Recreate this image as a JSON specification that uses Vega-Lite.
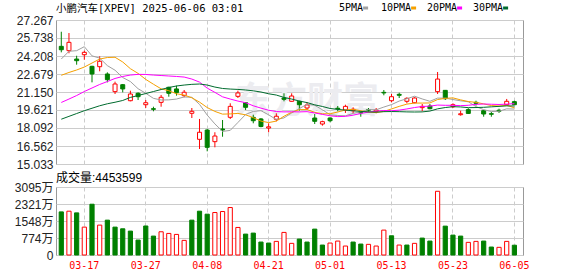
{
  "$schema": "https://vega.github.io/schema/vega-lite/v6.json",
  "background": "white",
  "padding": {"left": 0, "top": 2, "right": 4, "bottom": 0},
  "datasets": {
    "k": [
      {"date":"03-12","open":25.03,"high":26.27,"low":24.52,"close":24.74,"volume":19620000,"chg":"down","ma5":23.95,"ma10":22.57,"ma20":20.26,"ma30":18.84},
      {"date":"03-13","open":24.66,"high":26.16,"low":24.44,"close":25.37,"volume":19940000,"chg":"up","ma5":24.61,"ma10":22.81,"ma20":20.55,"ma30":19.08},
      {"date":"03-14","open":23.95,"high":24.23,"low":23.47,"close":23.81,"volume":19170000,"chg":"down","ma5":24.66,"ma10":23.02,"ma20":20.85,"ma30":19.32},
      {"date":"03-17","open":24.32,"high":24.66,"low":23.89,"close":24.52,"volume":12690000,"chg":"up","ma5":25.00,"ma10":23.27,"ma20":21.19,"ma30":19.56},
      {"date":"03-18","open":23.33,"high":23.38,"low":21.97,"close":22.68,"volume":23110000,"chg":"down","ma5":24.22,"ma10":23.61,"ma20":21.49,"ma30":19.77},
      {"date":"03-19","open":23.30,"high":24.18,"low":22.91,"close":23.76,"volume":13600000,"chg":"up","ma5":24.03,"ma10":23.95,"ma20":21.79,"ma30":19.98},
      {"date":"03-20","open":22.68,"high":22.82,"low":21.97,"close":22.20,"volume":15860000,"chg":"down","ma5":23.39,"ma10":24.08,"ma20":22.04,"ma30":20.15},
      {"date":"03-21","open":21.18,"high":22.03,"low":20.98,"close":21.83,"volume":12690000,"chg":"down","ma5":23.00,"ma10":24.10,"ma20":22.30,"ma30":20.28},
      {"date":"03-24","open":21.77,"high":21.83,"low":21.12,"close":21.41,"volume":11930000,"chg":"down","ma5":22.38,"ma10":23.70,"ma20":22.47,"ma30":20.43},
      {"date":"03-25","open":20.41,"high":21.26,"low":20.36,"close":20.98,"volume":10880000,"chg":"down","ma5":22.04,"ma10":23.13,"ma20":22.59,"ma30":20.69},
      {"date":"03-26","open":21.04,"high":21.12,"low":20.47,"close":20.75,"volume":6800000,"chg":"down","ma5":21.43,"ma10":22.73,"ma20":22.65,"ma30":20.85},
      {"date":"03-27","open":20.07,"high":20.47,"low":19.79,"close":20.24,"volume":13200000,"chg":"down","ma5":21.04,"ma10":22.22,"ma20":22.64,"ma30":21.02},
      {"date":"03-28","open":19.73,"high":19.90,"low":19.51,"close":19.68,"volume":8610000,"chg":"down","ma5":20.61,"ma10":21.81,"ma20":22.59,"ma30":21.19},
      {"date":"03-31","open":20.27,"high":20.90,"low":19.90,"close":20.70,"volume":10570000,"chg":"up","ma5":20.47,"ma10":21.42,"ma20":22.55,"ma30":21.36},
      {"date":"04-01","open":21.55,"high":21.60,"low":20.75,"close":21.04,"volume":9820000,"chg":"up","ma5":20.48,"ma10":21.26,"ma20":22.51,"ma30":21.53},
      {"date":"04-02","open":21.41,"high":21.69,"low":20.84,"close":21.10,"volume":9370000,"chg":"up","ma5":20.55,"ma10":21.00,"ma20":22.47,"ma30":21.66},
      {"date":"04-03","open":20.84,"high":21.32,"low":20.70,"close":21.13,"volume":6650000,"chg":"up","ma5":20.73,"ma10":20.89,"ma20":22.42,"ma30":21.74},
      {"date":"04-04","open":19.34,"high":19.79,"low":18.94,"close":19.51,"volume":15860000,"chg":"down","ma5":20.70,"ma10":20.66,"ma20":22.25,"ma30":21.80},
      {"date":"04-07","open":17.13,"high":18.86,"low":16.31,"close":17.73,"volume":19940000,"chg":"down","ma5":20.10,"ma10":20.29,"ma20":21.99,"ma30":21.83},
      {"date":"04-08","open":17.92,"high":18.01,"low":16.11,"close":16.45,"volume":18580000,"chg":"down","ma5":19.19,"ma10":19.83,"ma20":21.48,"ma30":21.74},
      {"date":"04-09","open":16.93,"high":17.73,"low":16.45,"close":17.41,"volume":19330000,"chg":"up","ma5":18.44,"ma10":19.50,"ma20":21.12,"ma30":21.57},
      {"date":"04-10","open":18.01,"high":18.77,"low":17.35,"close":17.92,"volume":19790000,"chg":"up","ma5":17.80,"ma10":19.27,"ma20":20.74,"ma30":21.45},
      {"date":"04-11","open":19.00,"high":20.19,"low":18.86,"close":19.93,"volume":21600000,"chg":"up","ma5":17.89,"ma10":19.29,"ma20":20.55,"ma30":21.40},
      {"date":"04-14","open":20.78,"high":21.26,"low":20.64,"close":21.07,"volume":12540000,"chg":"up","ma5":18.56,"ma10":19.33,"ma20":20.38,"ma30":21.37},
      {"date":"04-15","open":20.24,"high":20.27,"low":19.62,"close":19.85,"volume":9510000,"chg":"down","ma5":19.24,"ma10":19.21,"ma20":20.24,"ma30":21.32},
      {"date":"04-16","open":19.00,"high":19.22,"low":18.49,"close":18.71,"volume":9970000,"chg":"down","ma5":19.50,"ma10":18.97,"ma20":19.98,"ma30":21.25},
      {"date":"04-17","open":18.86,"high":18.94,"low":18.15,"close":18.22,"volume":5890000,"chg":"down","ma5":19.56,"ma10":18.68,"ma20":19.78,"ma30":21.15},
      {"date":"04-21","open":18.09,"high":18.49,"low":17.73,"close":18.19,"volume":5440000,"chg":"down","ma5":19.21,"ma10":18.55,"ma20":19.60,"ma30":21.00},
      {"date":"04-22","open":18.83,"high":19.34,"low":18.66,"close":19.09,"volume":6200000,"chg":"up","ma5":18.81,"ma10":18.68,"ma20":19.49,"ma30":20.89},
      {"date":"04-23","open":20.64,"high":21.04,"low":20.36,"close":20.53,"volume":10280000,"chg":"up","ma5":18.95,"ma10":19.09,"ma20":19.46,"ma30":20.69},
      {"date":"04-24","open":20.36,"high":21.04,"low":20.33,"close":20.81,"volume":5300000,"chg":"up","ma5":19.37,"ma10":19.43,"ma20":19.47,"ma30":20.55},
      {"date":"04-25","open":20.36,"high":20.41,"low":19.56,"close":20.07,"volume":7250000,"chg":"down","ma5":19.74,"ma10":19.65,"ma20":19.46,"ma30":20.38},
      {"date":"04-28","open":19.79,"high":20.27,"low":19.62,"close":20.05,"volume":5890000,"chg":"down","ma5":20.11,"ma10":19.66,"ma20":19.48,"ma30":20.25},
      {"date":"04-29","open":18.94,"high":19.28,"low":18.43,"close":18.66,"volume":11780000,"chg":"down","ma5":20.02,"ma10":19.42,"ma20":19.37,"ma30":20.06},
      {"date":"04-30","open":18.43,"high":18.71,"low":18.29,"close":18.63,"volume":4530000,"chg":"down","ma5":19.64,"ma10":19.30,"ma20":19.25,"ma30":19.92},
      {"date":"05-01","open":18.94,"high":19.00,"low":18.58,"close":18.71,"volume":5440000,"chg":"up","ma5":19.22,"ma10":19.30,"ma20":19.13,"ma30":19.75},
      {"date":"05-02","open":19.77,"high":19.96,"low":19.51,"close":19.71,"volume":6340000,"chg":"up","ma5":19.15,"ma10":19.45,"ma20":19.06,"ma30":19.67},
      {"date":"05-05","open":19.62,"high":20.07,"low":19.37,"close":19.93,"volume":4080000,"chg":"up","ma5":19.13,"ma10":19.62,"ma20":19.08,"ma30":19.61},
      {"date":"05-06","open":19.56,"high":19.85,"low":19.34,"close":19.68,"volume":5890000,"chg":"down","ma5":19.33,"ma10":19.68,"ma20":19.18,"ma30":19.55},
      {"date":"05-07","open":19.43,"high":19.56,"low":19.05,"close":19.37,"volume":4980000,"chg":"down","ma5":19.48,"ma10":19.56,"ma20":19.33,"ma30":19.50},
      {"date":"05-08","open":19.65,"high":19.79,"low":19.43,"close":19.60,"volume":4850000,"chg":"up","ma5":19.66,"ma10":19.44,"ma20":19.44,"ma30":19.46},
      {"date":"05-09","open":19.51,"high":19.79,"low":19.34,"close":19.62,"volume":4080000,"chg":"up","ma5":19.64,"ma10":19.40,"ma20":19.52,"ma30":19.44},
      {"date":"05-12","open":21.12,"high":21.32,"low":20.87,"close":21.07,"volume":11330000,"chg":"up","ma5":19.87,"ma10":19.50,"ma20":19.58,"ma30":19.48},
      {"date":"05-13","open":20.41,"high":20.98,"low":20.27,"close":20.75,"volume":8750000,"chg":"down","ma5":20.08,"ma10":19.71,"ma20":19.56,"ma30":19.49},
      {"date":"05-14","open":20.95,"high":21.09,"low":20.64,"close":20.87,"volume":4530000,"chg":"up","ma5":20.38,"ma10":19.93,"ma20":19.61,"ma30":19.48},
      {"date":"05-15","open":20.36,"high":20.70,"low":20.19,"close":20.61,"volume":4530000,"chg":"down","ma5":20.58,"ma10":20.12,"ma20":19.71,"ma30":19.46},
      {"date":"05-16","open":20.24,"high":20.70,"low":20.19,"close":20.64,"volume":5300000,"chg":"up","ma5":20.79,"ma10":20.21,"ma20":19.83,"ma30":19.45},
      {"date":"05-19","open":19.82,"high":20.13,"low":19.51,"close":19.93,"volume":7700000,"chg":"down","ma5":20.56,"ma10":20.21,"ma20":19.92,"ma30":19.46},
      {"date":"05-20","open":19.96,"high":20.13,"low":19.68,"close":19.73,"volume":6340000,"chg":"down","ma5":20.36,"ma10":20.22,"ma20":19.95,"ma30":19.53},
      {"date":"05-21","open":21.18,"high":22.85,"low":20.98,"close":22.25,"volume":29000000,"chg":"up","ma5":20.63,"ma10":20.51,"ma20":20.04,"ma30":19.72},
      {"date":"05-22","open":21.29,"high":21.32,"low":20.47,"close":20.58,"volume":13140000,"chg":"down","ma5":20.63,"ma10":20.61,"ma20":20.02,"ma30":19.83},
      {"date":"05-23","open":19.90,"high":20.19,"low":19.79,"close":20.07,"volume":9060000,"chg":"down","ma5":20.51,"ma10":20.65,"ma20":20.02,"ma30":19.90},
      {"date":"05-27","open":19.22,"high":19.56,"low":19.14,"close":19.30,"volume":8610000,"chg":"down","ma5":20.40,"ma10":20.48,"ma20":19.99,"ma30":19.88},
      {"date":"05-28","open":19.65,"high":19.77,"low":19.28,"close":19.33,"volume":5750000,"chg":"up","ma5":20.32,"ma10":20.34,"ma20":20.02,"ma30":19.82},
      {"date":"05-29","open":20.27,"high":20.41,"low":19.99,"close":20.19,"volume":6200000,"chg":"up","ma5":19.91,"ma10":20.27,"ma20":20.10,"ma30":19.83},
      {"date":"05-30","open":19.56,"high":19.62,"low":19.05,"close":19.28,"volume":6340000,"chg":"down","ma5":19.65,"ma10":20.14,"ma20":20.13,"ma30":19.85},
      {"date":"06-02","open":19.31,"high":19.45,"low":19.05,"close":19.26,"volume":3620000,"chg":"down","ma5":19.49,"ma10":20.00,"ma20":20.11,"ma30":19.89},
      {"date":"06-03","open":19.60,"high":19.73,"low":19.37,"close":19.51,"volume":3490000,"chg":"up","ma5":19.51,"ma10":19.96,"ma20":20.09,"ma30":19.93},
      {"date":"06-04","open":20.07,"high":20.56,"low":19.99,"close":20.36,"volume":6200000,"chg":"up","ma5":19.72,"ma10":20.02,"ma20":20.12,"ma30":19.97},
      {"date":"06-05","open":20.33,"high":20.41,"low":20.07,"close":20.07,"volume":4453599,"chg":"down","ma5":19.70,"ma10":19.80,"ma20":20.16,"ma30":19.96}
    ]
  },
  "data": {"name": "k"},
  "spacing": 0,
  "vconcat": [
    {
      "width": 467,
      "height": 144,
      "title": {"text": "小鹏汽车[XPEV] 2025-06-06 03:01", "anchor": "start", "frame": "group", "font": "DejaVu Sans Mono, Noto Sans CJK SC", "fontSize": 10.5, "fontWeight": "normal", "color": "#000000", "offset": -11},
      "resolve": {"scale": {"color": "independent"}, "legend": {"color": "independent"}},
      "encoding": {
        "x": {
          "field": "date", "type": "ordinal",
          "scale": {"paddingInner": 0.3, "paddingOuter": 0.555, "align": 0.305},
          "axis": {"values": ["03-17","03-27","04-08","04-21","05-01","05-13","05-23","06-05"], "labels": false, "ticks": false, "domain": false, "grid": true, "gridDash": [4, 3], "gridColor": "#cccccc", "bandPosition": 0.5, "title": null}
        }
      },
      "layer": [
        {
          "data": {"values": [{"wm": "东方财富", "d": "04-28", "p": 19.4}]},
          "mark": {"type": "text", "font": "Noto Sans CJK SC", "fontSize": 36, "fontWeight": "bold", "color": "#ececf0", "baseline": "alphabetic", "align": "center"},
          "encoding": {
            "x": {"field": "d", "type": "ordinal"},
            "y": {"field": "p", "type": "quantitative", "scale": {"domain": [15.033, 27.267], "nice": false, "zero": false},
              "axis": {"values": [15.033, 16.562, 18.092, 19.621, 21.150, 22.679, 24.208, 25.738, 27.267], "format": ".3f", "title": null, "ticks": false, "domain": false, "labelPadding": 3, "minExtent": 55, "maxExtent": 55, "labelFlush": false, "labelBaseline": "middle", "labelOverlap": false, "grid": true, "gridColor": "#cccccc"}},
            "text": {"field": "wm"}
          }
        },
        {
          "mark": {"type": "rule", "strokeWidth": 1},
          "encoding": {
            "y": {
              "field": "low", "type": "quantitative",
              "scale": {"domain": [15.033, 27.267], "nice": false, "zero": false},
              "axis": {"values": [15.033, 16.562, 18.092, 19.621, 21.150, 22.679, 24.208, 25.738, 27.267], "format": ".3f", "title": null, "ticks": false, "domain": false, "labelPadding": 3, "minExtent": 55, "maxExtent": 55, "labelFlush": false, "labelBaseline": "middle", "labelOverlap": false, "grid": true, "gridColor": "#cccccc"}
            },
            "y2": {"field": "high"},
            "stroke": {"condition": {"test": "datum.close >= datum.open", "value": "#ff0000"}, "value": "#008000"}
          }
        },
        {
          "mark": {"type": "bar", "width": 4, "strokeWidth": 1},
          "encoding": {
            "y": {"field": "open", "type": "quantitative",
              "axis": {"values": [15.033, 16.562, 18.092, 19.621, 21.150, 22.679, 24.208, 25.738, 27.267], "format": ".3f", "title": null, "ticks": false, "domain": false, "labelPadding": 3, "minExtent": 55, "maxExtent": 55, "labelFlush": false, "labelBaseline": "middle", "labelOverlap": false, "grid": true, "gridColor": "#cccccc"}},
            "y2": {"field": "close"},
            "fill": {"condition": {"test": "datum.close >= datum.open", "value": "#ffffff"}, "value": "#008000"},
            "stroke": {"condition": {"test": "datum.close >= datum.open", "value": "#ff0000"}, "value": "#008000"}
          }
        },
        {
          "mark": {"type": "line", "strokeWidth": 1},
          "encoding": {
            "y": {"field": "ma5", "type": "quantitative",
              "axis": {"values": [15.033, 16.562, 18.092, 19.621, 21.150, 22.679, 24.208, 25.738, 27.267], "format": ".3f", "title": null, "ticks": false, "domain": false, "labelPadding": 3, "minExtent": 55, "maxExtent": 55, "labelFlush": false, "labelBaseline": "middle", "labelOverlap": false, "grid": true, "gridColor": "#cccccc"}},
            "color": {"datum": "5PMA", "type": "nominal", "scale": {"range": ["#a0a0a0"]},
              "legend": {"orient": "none", "legendX": 273, "legendY": -17, "title": null, "padding": 0, "symbolType": "M30.1,-0.5h3v1h-3Z", "symbolSize": 4, "symbolStrokeWidth": 2, "symbolOpacity": 1, "labelFont": "DejaVu Sans Mono", "labelFontSize": 10, "labelColor": "#000000", "labelOffset": 0}}
          }
        },
        {
          "mark": {"type": "line", "strokeWidth": 1},
          "encoding": {
            "y": {"field": "ma10", "type": "quantitative",
              "axis": {"values": [15.033, 16.562, 18.092, 19.621, 21.150, 22.679, 24.208, 25.738, 27.267], "format": ".3f", "title": null, "ticks": false, "domain": false, "labelPadding": 3, "minExtent": 55, "maxExtent": 55, "labelFlush": false, "labelBaseline": "middle", "labelOverlap": false, "grid": true, "gridColor": "#cccccc"}},
            "color": {"datum": "10PMA", "type": "nominal", "scale": {"range": ["#f5a000"]},
              "legend": {"orient": "none", "legendX": 315, "legendY": -17, "title": null, "padding": 0, "symbolType": "M36.1,-0.5h3v1h-3Z", "symbolSize": 4, "symbolStrokeWidth": 2, "symbolOpacity": 1, "labelFont": "DejaVu Sans Mono", "labelFontSize": 10, "labelColor": "#000000", "labelOffset": 0}}
          }
        },
        {
          "mark": {"type": "line", "strokeWidth": 1},
          "encoding": {
            "y": {"field": "ma20", "type": "quantitative",
              "axis": {"values": [15.033, 16.562, 18.092, 19.621, 21.150, 22.679, 24.208, 25.738, 27.267], "format": ".3f", "title": null, "ticks": false, "domain": false, "labelPadding": 3, "minExtent": 55, "maxExtent": 55, "labelFlush": false, "labelBaseline": "middle", "labelOverlap": false, "grid": true, "gridColor": "#cccccc"}},
            "color": {"datum": "20PMA", "type": "nominal", "scale": {"range": ["#ff00ff"]},
              "legend": {"orient": "none", "legendX": 361, "legendY": -17, "title": null, "padding": 0, "symbolType": "M36.1,-0.5h3v1h-3Z", "symbolSize": 4, "symbolStrokeWidth": 2, "symbolOpacity": 1, "labelFont": "DejaVu Sans Mono", "labelFontSize": 10, "labelColor": "#000000", "labelOffset": 0}}
          }
        },
        {
          "mark": {"type": "line", "strokeWidth": 1},
          "encoding": {
            "y": {"field": "ma30", "type": "quantitative",
              "axis": {"values": [15.033, 16.562, 18.092, 19.621, 21.150, 22.679, 24.208, 25.738, 27.267], "format": ".3f", "title": null, "ticks": false, "domain": false, "labelPadding": 3, "minExtent": 55, "maxExtent": 55, "labelFlush": false, "labelBaseline": "middle", "labelOverlap": false, "grid": true, "gridColor": "#cccccc"}},
            "color": {"datum": "30PMA", "type": "nominal", "scale": {"range": ["#006b2e"]},
              "legend": {"orient": "none", "legendX": 407, "legendY": -17, "title": null, "padding": 0, "symbolType": "M36.1,-0.5h3v1h-3Z", "symbolSize": 4, "symbolStrokeWidth": 2, "symbolOpacity": 1, "labelFont": "DejaVu Sans Mono", "labelFontSize": 10, "labelColor": "#000000", "labelOffset": 0}}
          }
        }
      ]
    },
    {
      "width": 467,
      "height": 68,
      "title": {"text": "成交量:4453599", "anchor": "start", "frame": "group", "font": "Liberation Sans, Noto Sans CJK SC", "fontSize": 12, "fontWeight": "normal", "color": "#000000", "offset": -4},
      "mark": {"type": "bar", "width": 4.2, "strokeWidth": 1},
      "encoding": {
        "x": {
          "field": "date", "type": "ordinal",
          "scale": {"paddingInner": 0.3, "paddingOuter": 0.555, "align": 0.305},
          "axis": {"values": ["03-17","03-27","04-08","04-21","05-01","05-13","05-23","06-05"], "labelColor": "#ff0000", "labelFont": "DejaVu Sans Mono", "labelFontSize": 10, "labelAngle": 0, "labelPadding": 5, "labelFlush": false, "ticks": false, "domain": false, "grid": true, "gridDash": [4, 3], "gridColor": "#cccccc", "bandPosition": 0.5, "title": null}
        },
        "y": {
          "field": "volume", "type": "quantitative",
          "scale": {"domain": [0, 30950000], "nice": false, "zero": true},
          "axis": {"values": [0, 7737500, 15475000, 23212500, 30950000], "labelExpr": "datum.value == 0 ? '0' : format(datum.value / 10000, 'd') + '万'", "title": null, "ticks": false, "domain": false, "labelPadding": 3, "minExtent": 55, "maxExtent": 55, "labelFlush": false, "labelBaseline": "middle", "labelOverlap": false, "grid": true, "gridColor": "#cccccc"}
        },
        "fill": {"condition": {"test": "datum.chg == 'up'", "value": "#ffffff"}, "value": "#008000"},
        "stroke": {"condition": {"test": "datum.chg == 'up'", "value": "#ff0000"}, "value": "#008000"}
      }
    }
  ],
  "config": {
    "view": {"stroke": "#999999", "strokeWidth": 1},
    "axis": {"labelFont": "Liberation Sans, Noto Sans CJK SC", "labelFontSize": 12, "labelColor": "#222222", "gridWidth": 1, "labelOverlap": false}
  }
}
